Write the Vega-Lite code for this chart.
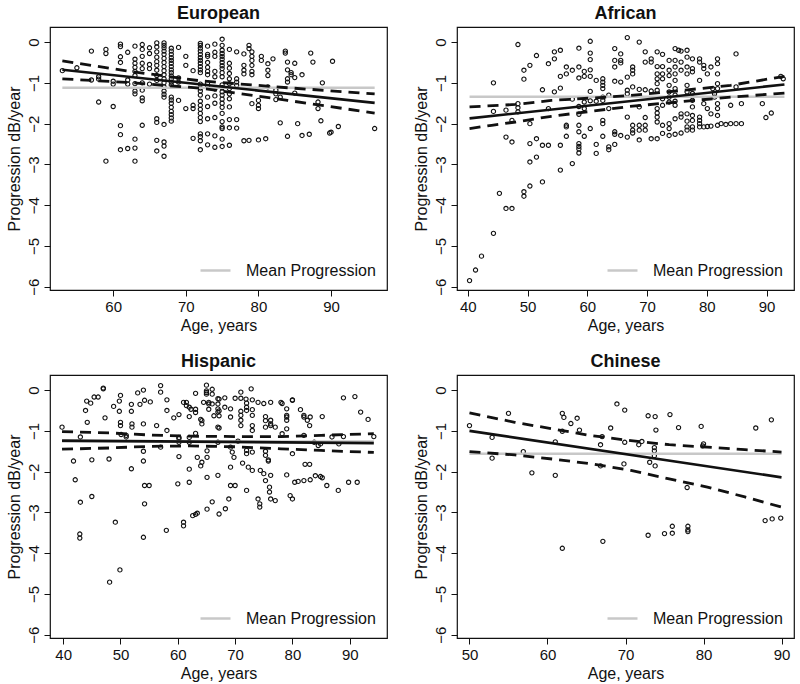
{
"$schema": "https://vega.github.io/schema/vega-lite/v6.json",
"padding": {"left": 5, "top": 4, "right": 5, "bottom": 5},
"bounds": "flush",
"columns": 2,
"spacing": {"row": 85, "column": 70},
"config": {
 "font": "Liberation Sans",
 "view": {"stroke": "#111", "strokeWidth": 1.2},
 "axis": {"grid": false, "domain": false, "tickColor": "#111", "tickSize": 6, "tickWidth": 1, "labelFontSize": 15, "labelColor": "#111", "titleFontSize": 16, "titleFontWeight": "normal", "titleColor": "#111", "labelPadding": 3, "labelFlush": false, "labelOverlap": false},
 "axisY": {"labelAngle": 270, "labelAlign": "center", "labelBaseline": "bottom", "titlePadding": 4},
 "axisX": {"titlePadding": 3},
 "title": {"fontSize": 18, "fontWeight": "bold", "color": "#111", "offset": 4, "anchor": "middle", "frame": "group"},
 "legend": {"orient": "bottom-right", "title": null, "symbolType": "stroke", "symbolSize": 900, "symbolStrokeWidth": 2.5, "labelFontSize": 16, "labelColor": "#111", "offset": 11, "padding": 0, "labelOffset": 14}
},
"resolve": {"scale": {"color": "independent"}, "legend": {"color": "independent"}},
"datasets": {
"pts": [
{"g":"E","a":53,"p":-0.7},{"g":"E","a":55,"p":-0.63},{"g":"E","a":57,"p":-0.22},{"g":"E","a":57,"p":-0.93},
{"g":"E","a":58,"p":-0.85},{"g":"E","a":58,"p":-0.91},{"g":"E","a":58,"p":-1.47},
{"g":"E","a":59,"p":-0.18},{"g":"E","a":59,"p":-0.28},{"g":"E","a":59,"p":-2.92},
{"g":"E","a":60,"p":-0.96},{"g":"E","a":60,"p":-1.03},{"g":"E","a":60,"p":-1.58},
{"g":"E","a":61,"p":-0.05},{"g":"E","a":61,"p":-0.11},{"g":"E","a":61,"p":-0.36},{"g":"E","a":61,"p":-0.5},{"g":"E","a":61,"p":-2.05},{"g":"E","a":61,"p":-2.27},{"g":"E","a":61,"p":-2.64},
{"g":"E","a":62,"p":-0.25},{"g":"E","a":62,"p":-0.93},{"g":"E","a":62,"p":-1.03},{"g":"E","a":62,"p":-2.61},
{"g":"E","a":63,"p":-0.1},{"g":"E","a":63,"p":-0.42},{"g":"E","a":63,"p":-0.52},{"g":"E","a":63,"p":-0.62},{"g":"E","a":63,"p":-0.72},{"g":"E","a":63,"p":-0.82},{"g":"E","a":63,"p":-1.02},{"g":"E","a":63,"p":-1.2},{"g":"E","a":63,"p":-1.27},{"g":"E","a":63,"p":-2.38},{"g":"E","a":63,"p":-2.6},{"g":"E","a":63,"p":-2.92},
{"g":"E","a":64,"p":-0.06},{"g":"E","a":64,"p":-0.18},{"g":"E","a":64,"p":-0.35},{"g":"E","a":64,"p":-0.52},{"g":"E","a":64,"p":-0.65},{"g":"E","a":64,"p":-1.0},{"g":"E","a":64,"p":-1.18},{"g":"E","a":64,"p":-1.37},{"g":"E","a":64,"p":-1.44},{"g":"E","a":64,"p":-2.04},
{"g":"E","a":65,"p":-0.14},{"g":"E","a":65,"p":-0.28},{"g":"E","a":65,"p":-0.55},{"g":"E","a":65,"p":-0.65},{"g":"E","a":65,"p":-1.03},
{"g":"E","a":66,"p":-0.02},{"g":"E","a":66,"p":-0.12},{"g":"E","a":66,"p":-0.24},{"g":"E","a":66,"p":-0.37},{"g":"E","a":66,"p":-0.48},{"g":"E","a":66,"p":-0.57},{"g":"E","a":66,"p":-0.69},{"g":"E","a":66,"p":-0.82},{"g":"E","a":66,"p":-0.94},{"g":"E","a":66,"p":-1.88},{"g":"E","a":66,"p":-1.97},{"g":"E","a":66,"p":-2.41},{"g":"E","a":66,"p":-2.67},
{"g":"E","a":67,"p":-0.02},{"g":"E","a":67,"p":-0.08},{"g":"E","a":67,"p":-0.14},{"g":"E","a":67,"p":-0.22},{"g":"E","a":67,"p":-0.3},{"g":"E","a":67,"p":-0.4},{"g":"E","a":67,"p":-0.5},{"g":"E","a":67,"p":-0.6},{"g":"E","a":67,"p":-0.7},{"g":"E","a":67,"p":-0.8},{"g":"E","a":67,"p":-0.9},{"g":"E","a":67,"p":-1.0},{"g":"E","a":67,"p":-1.1},{"g":"E","a":67,"p":-1.2},{"g":"E","a":67,"p":-1.28},{"g":"E","a":67,"p":-1.35},{"g":"E","a":67,"p":-2.02},{"g":"E","a":67,"p":-2.45},{"g":"E","a":67,"p":-2.55},{"g":"E","a":67,"p":-2.8},
{"g":"E","a":68,"p":-0.15},{"g":"E","a":68,"p":-0.22},{"g":"E","a":68,"p":-0.3},{"g":"E","a":68,"p":-0.38},{"g":"E","a":68,"p":-0.45},{"g":"E","a":68,"p":-0.52},{"g":"E","a":68,"p":-0.6},{"g":"E","a":68,"p":-0.68},{"g":"E","a":68,"p":-0.75},{"g":"E","a":68,"p":-0.83},{"g":"E","a":68,"p":-0.9},{"g":"E","a":68,"p":-0.98},{"g":"E","a":68,"p":-1.05},{"g":"E","a":68,"p":-1.35},{"g":"E","a":68,"p":-1.42},{"g":"E","a":68,"p":-1.5},{"g":"E","a":68,"p":-1.6},{"g":"E","a":68,"p":-1.7},{"g":"E","a":68,"p":-1.78},{"g":"E","a":68,"p":-1.86},{"g":"E","a":68,"p":-1.94},
{"g":"E","a":69,"p":-0.13},{"g":"E","a":69,"p":-0.88},{"g":"E","a":69,"p":-0.98},{"g":"E","a":69,"p":-1.43},
{"g":"E","a":70,"p":-0.35},{"g":"E","a":70,"p":-0.57},{"g":"E","a":70,"p":-1.63},
{"g":"E","a":71,"p":-0.7},{"g":"E","a":71,"p":-1.55},{"g":"E","a":71,"p":-1.63},{"g":"E","a":71,"p":-2.36},
{"g":"E","a":72,"p":-0.03},{"g":"E","a":72,"p":-0.08},{"g":"E","a":72,"p":-0.15},{"g":"E","a":72,"p":-0.22},{"g":"E","a":72,"p":-0.3},{"g":"E","a":72,"p":-0.38},{"g":"E","a":72,"p":-0.45},{"g":"E","a":72,"p":-0.52},{"g":"E","a":72,"p":-0.6},{"g":"E","a":72,"p":-0.68},{"g":"E","a":72,"p":-0.75},{"g":"E","a":72,"p":-1.03},{"g":"E","a":72,"p":-1.13},{"g":"E","a":72,"p":-1.2},{"g":"E","a":72,"p":-1.3},{"g":"E","a":72,"p":-1.45},{"g":"E","a":72,"p":-1.55},{"g":"E","a":72,"p":-1.65},{"g":"E","a":72,"p":-1.75},{"g":"E","a":72,"p":-1.85},{"g":"E","a":72,"p":-1.95},{"g":"E","a":72,"p":-2.25},{"g":"E","a":72,"p":-2.32},{"g":"E","a":72,"p":-2.42},{"g":"E","a":72,"p":-2.64},
{"g":"E","a":73,"p":-0.1},{"g":"E","a":73,"p":-0.3},{"g":"E","a":73,"p":-0.35},{"g":"E","a":73,"p":-0.5},{"g":"E","a":73,"p":-0.62},{"g":"E","a":73,"p":-0.72},{"g":"E","a":73,"p":-0.8},{"g":"E","a":73,"p":-1.0},{"g":"E","a":73,"p":-1.1},{"g":"E","a":73,"p":-1.35},{"g":"E","a":73,"p":-1.58},{"g":"E","a":73,"p":-1.88},{"g":"E","a":73,"p":-2.25},{"g":"E","a":73,"p":-2.52},
{"g":"E","a":74,"p":-0.05},{"g":"E","a":74,"p":-0.25},{"g":"E","a":74,"p":-0.35},{"g":"E","a":74,"p":-0.72},{"g":"E","a":74,"p":-0.85},{"g":"E","a":74,"p":-1.15},{"g":"E","a":74,"p":-1.32},{"g":"E","a":74,"p":-1.5},{"g":"E","a":74,"p":-1.85},{"g":"E","a":74,"p":-2.3},{"g":"E","a":74,"p":-2.58},
{"g":"E","a":75,"p":0.07},{"g":"E","a":75,"p":-0.08},{"g":"E","a":75,"p":-0.2},{"g":"E","a":75,"p":-0.28},{"g":"E","a":75,"p":-0.35},{"g":"E","a":75,"p":-0.42},{"g":"E","a":75,"p":-0.5},{"g":"E","a":75,"p":-0.58},{"g":"E","a":75,"p":-0.65},{"g":"E","a":75,"p":-0.75},{"g":"E","a":75,"p":-0.85},{"g":"E","a":75,"p":-1.05},{"g":"E","a":75,"p":-1.12},{"g":"E","a":75,"p":-1.22},{"g":"E","a":75,"p":-1.3},{"g":"E","a":75,"p":-1.4},{"g":"E","a":75,"p":-1.5},{"g":"E","a":75,"p":-1.6},{"g":"E","a":75,"p":-1.75},{"g":"E","a":75,"p":-1.95},{"g":"E","a":75,"p":-2.08},{"g":"E","a":75,"p":-2.12},{"g":"E","a":75,"p":-2.38},{"g":"E","a":75,"p":-2.56},
{"g":"E","a":76,"p":-0.18},{"g":"E","a":76,"p":-0.52},{"g":"E","a":76,"p":-0.64},{"g":"E","a":76,"p":-0.77},{"g":"E","a":76,"p":-0.9},{"g":"E","a":76,"p":-1.02},{"g":"E","a":76,"p":-1.14},{"g":"E","a":76,"p":-1.27},{"g":"E","a":76,"p":-1.39},{"g":"E","a":76,"p":-1.59},{"g":"E","a":76,"p":-1.9},{"g":"E","a":76,"p":-2.1},{"g":"E","a":76,"p":-2.53},
{"g":"E","a":77,"p":-0.24},{"g":"E","a":77,"p":-0.9},{"g":"E","a":77,"p":-0.98},{"g":"E","a":77,"p":-1.06},{"g":"E","a":77,"p":-1.9},{"g":"E","a":77,"p":-2.11},
{"g":"E","a":78,"p":-0.29},{"g":"E","a":78,"p":-0.57},{"g":"E","a":78,"p":-0.69},{"g":"E","a":78,"p":-0.78},{"g":"E","a":78,"p":-2.42},
{"g":"E","a":78.7,"p":-0.08},{"g":"E","a":78.7,"p":-0.16},{"g":"E","a":78.7,"p":-2.41},
{"g":"E","a":79.1,"p":-0.24},{"g":"E","a":79.1,"p":-0.35},{"g":"E","a":79.1,"p":-0.45},{"g":"E","a":79.1,"p":-0.57},{"g":"E","a":79.1,"p":-0.72},{"g":"E","a":79.1,"p":-0.8},{"g":"E","a":79.1,"p":-1.51},
{"g":"E","a":80,"p":-1.43},{"g":"E","a":80,"p":-1.55},{"g":"E","a":80,"p":-1.63},{"g":"E","a":80,"p":-2.4},
{"g":"E","a":80.4,"p":-0.35},{"g":"E","a":80.4,"p":-0.45},{"g":"E","a":81,"p":-2.37},
{"g":"E","a":81.3,"p":-0.53},{"g":"E","a":81.3,"p":-0.69},{"g":"E","a":81.3,"p":-0.82},{"g":"E","a":81.3,"p":-1.1},
{"g":"E","a":82,"p":-0.41},{"g":"E","a":82.4,"p":-1.18},{"g":"E","a":82.4,"p":-1.27},{"g":"E","a":82.4,"p":-1.41},
{"g":"E","a":83,"p":-1.98},{"g":"E","a":83,"p":-1.35},{"g":"E","a":83.7,"p":-0.27},{"g":"E","a":83.7,"p":-0.22},
{"g":"E","a":84,"p":-0.49},{"g":"E","a":84,"p":-0.68},{"g":"E","a":84,"p":-0.9},{"g":"E","a":84,"p":-0.98},{"g":"E","a":84,"p":-2.31},
{"g":"E","a":84.5,"p":-0.75},{"g":"E","a":84.5,"p":-0.8},{"g":"E","a":85,"p":-0.52},{"g":"E","a":85,"p":-0.87},{"g":"E","a":85,"p":-1.25},
{"g":"E","a":85.4,"p":-2.0},{"g":"E","a":86,"p":-2.29},{"g":"E","a":86,"p":-0.8},{"g":"E","a":87,"p":-2.26},{"g":"E","a":87.2,"p":-0.27},{"g":"E","a":87.5,"p":-0.49},
{"g":"E","a":88.2,"p":-1.47},{"g":"E","a":88.2,"p":-1.63},{"g":"E","a":88.6,"p":-1.93},{"g":"E","a":88.8,"p":-1.0},
{"g":"E","a":89.8,"p":-2.23},{"g":"E","a":90,"p":-2.21},{"g":"E","a":90.2,"p":-0.47},{"g":"E","a":91,"p":-2.07},{"g":"E","a":96,"p":-2.12},

{"g":"A","a":40.3,"p":-5.85},{"g":"A","a":41.3,"p":-5.59},{"g":"A","a":42.3,"p":-5.25},
{"g":"A","a":44.3,"p":-4.69},{"g":"A","a":44.3,"p":-1.0},{"g":"A","a":44.3,"p":-1.7},{"g":"A","a":45.3,"p":-3.71},
{"g":"A","a":46.4,"p":-4.08},{"g":"A","a":46.4,"p":-1.67},{"g":"A","a":46.4,"p":-2.33},
{"g":"A","a":47.4,"p":-4.08},{"g":"A","a":47.4,"p":-1.92},{"g":"A","a":47.4,"p":-2.45},
{"g":"A","a":48.4,"p":-0.06},{"g":"A","a":48.4,"p":-1.51},{"g":"A","a":48.4,"p":-1.61},{"g":"A","a":48.4,"p":-1.71},
{"g":"A","a":49.4,"p":-0.69},{"g":"A","a":49.4,"p":-0.91},{"g":"A","a":49.4,"p":-3.67},{"g":"A","a":49.4,"p":-3.78},
{"g":"A","a":50.4,"p":-0.57},{"g":"A","a":50.4,"p":-2.0},{"g":"A","a":50.4,"p":-2.49},{"g":"A","a":50.4,"p":-2.94},{"g":"A","a":50.4,"p":-3.53},
{"g":"A","a":51.5,"p":-0.33},{"g":"A","a":51.5,"p":-2.37},{"g":"A","a":51.5,"p":-2.82},
{"g":"A","a":52.5,"p":-1.17},{"g":"A","a":52.5,"p":-2.53},{"g":"A","a":52.5,"p":-3.43},
{"g":"A","a":53.5,"p":-0.53},{"g":"A","a":53.5,"p":-1.63},{"g":"A","a":53.5,"p":-2.53},
{"g":"A","a":54.5,"p":-0.24},{"g":"A","a":54.5,"p":-0.41},{"g":"A","a":54.5,"p":-1.22},
{"g":"A","a":55.5,"p":-0.2},{"g":"A","a":55.5,"p":-0.84},{"g":"A","a":55.5,"p":-1.13},{"g":"A","a":55.5,"p":-2.53},{"g":"A","a":55.5,"p":-3.14},
{"g":"A","a":56.5,"p":-0.61},{"g":"A","a":56.5,"p":-0.78},{"g":"A","a":56.5,"p":-2.04},{"g":"A","a":56.5,"p":-2.08},{"g":"A","a":56.5,"p":-2.31},
{"g":"A","a":57.5,"p":-0.69},{"g":"A","a":57.5,"p":-2.98},{"g":"A","a":57.5,"p":-1.4},
{"g":"A","a":58.6,"p":-0.15},{"g":"A","a":58.6,"p":-0.61},{"g":"A","a":58.6,"p":-0.88},{"g":"A","a":58.6,"p":-1.58},{"g":"A","a":58.6,"p":-1.77},{"g":"A","a":58.6,"p":-2.04},{"g":"A","a":58.6,"p":-2.2},{"g":"A","a":58.6,"p":-2.49},{"g":"A","a":58.6,"p":-2.56},{"g":"A","a":58.6,"p":-2.62},{"g":"A","a":58.6,"p":-2.72},
{"g":"A","a":59.5,"p":-0.72},{"g":"A","a":59.5,"p":-0.84},{"g":"A","a":59.5,"p":-1.47},{"g":"A","a":59.5,"p":-1.63},{"g":"A","a":59.5,"p":-2.31},
{"g":"A","a":60.5,"p":0.02},{"g":"A","a":60.5,"p":-0.27},{"g":"A","a":60.5,"p":-0.43},{"g":"A","a":60.5,"p":-0.68},{"g":"A","a":60.5,"p":-0.84},{"g":"A","a":60.5,"p":-1.21},{"g":"A","a":60.5,"p":-1.44},{"g":"A","a":60.5,"p":-2.12},
{"g":"A","a":61.5,"p":-0.94},{"g":"A","a":61.5,"p":-2.51},{"g":"A","a":61.5,"p":-2.73},{"g":"A","a":61.5,"p":-1.45},
{"g":"A","a":62.6,"p":-0.9},{"g":"A","a":62.6,"p":-0.98},{"g":"A","a":62.6,"p":-1.06},{"g":"A","a":62.6,"p":-1.14},{"g":"A","a":62.6,"p":-1.35},{"g":"A","a":62.6,"p":-1.43},{"g":"A","a":62.6,"p":-1.92},{"g":"A","a":62.6,"p":-2.0},{"g":"A","a":62.6,"p":-2.31},
{"g":"A","a":63.6,"p":-1.63},{"g":"A","a":63.6,"p":-2.57},{"g":"A","a":63.6,"p":-2.64},{"g":"A","a":63.6,"p":-1.3},
{"g":"A","a":64.6,"p":-0.16},{"g":"A","a":64.6,"p":-0.45},{"g":"A","a":64.6,"p":-0.61},{"g":"A","a":64.6,"p":-0.96},{"g":"A","a":64.6,"p":-2.2},{"g":"A","a":64.6,"p":-2.26},{"g":"A","a":64.6,"p":-2.51},
{"g":"A","a":65.6,"p":-0.45},{"g":"A","a":65.6,"p":-0.51},{"g":"A","a":65.6,"p":-0.98},{"g":"A","a":65.6,"p":-2.29},{"g":"A","a":65.6,"p":-0.29},
{"g":"A","a":66.7,"p":0.11},{"g":"A","a":66.7,"p":-0.86},{"g":"A","a":66.7,"p":-1.18},{"g":"A","a":66.7,"p":-1.27},{"g":"A","a":66.7,"p":-1.84},{"g":"A","a":66.7,"p":-2.33},
{"g":"A","a":67.6,"p":-0.61},{"g":"A","a":67.6,"p":-0.69},{"g":"A","a":67.6,"p":-0.78},{"g":"A","a":67.6,"p":-1.1},{"g":"A","a":67.6,"p":-2.04},{"g":"A","a":67.6,"p":-2.16},{"g":"A","a":67.6,"p":-2.23},
{"g":"A","a":68.7,"p":0.0},{"g":"A","a":68.7,"p":-1.16},{"g":"A","a":68.7,"p":-1.59},{"g":"A","a":68.7,"p":-2.04},{"g":"A","a":68.7,"p":-2.16},{"g":"A","a":68.7,"p":-2.4},
{"g":"A","a":69.7,"p":-0.24},{"g":"A","a":69.7,"p":-0.49},{"g":"A","a":69.7,"p":-1.17},{"g":"A","a":69.7,"p":-1.85},{"g":"A","a":69.7,"p":-2.04},{"g":"A","a":69.7,"p":-2.16},
{"g":"A","a":70.7,"p":-0.41},{"g":"A","a":70.7,"p":-0.49},{"g":"A","a":70.7,"p":-2.37},{"g":"A","a":70.7,"p":-1.2},
{"g":"A","a":71.7,"p":-0.24},{"g":"A","a":71.7,"p":-0.6},{"g":"A","a":71.7,"p":-0.78},{"g":"A","a":71.7,"p":-0.9},{"g":"A","a":71.7,"p":-1.02},{"g":"A","a":71.7,"p":-1.18},{"g":"A","a":71.7,"p":-1.63},{"g":"A","a":71.7,"p":-1.74},{"g":"A","a":71.7,"p":-1.84},{"g":"A","a":71.7,"p":-1.96},{"g":"A","a":71.7,"p":-2.37},
{"g":"A","a":72.6,"p":-0.6},{"g":"A","a":72.6,"p":-0.78},{"g":"A","a":72.6,"p":-0.9},{"g":"A","a":72.6,"p":-1.39},{"g":"A","a":72.6,"p":-1.55},{"g":"A","a":72.6,"p":-2.04},{"g":"A","a":72.6,"p":-2.24},{"g":"A","a":72.6,"p":-0.3},
{"g":"A","a":73.7,"p":-0.45},{"g":"A","a":73.7,"p":-0.69},{"g":"A","a":73.7,"p":-0.82},{"g":"A","a":73.7,"p":-1.06},{"g":"A","a":73.7,"p":-1.22},{"g":"A","a":73.7,"p":-1.35},{"g":"A","a":73.7,"p":-1.47},{"g":"A","a":73.7,"p":-2.0},{"g":"A","a":73.7,"p":-2.12},{"g":"A","a":73.7,"p":-2.29},
{"g":"A","a":74.7,"p":-0.16},{"g":"A","a":74.7,"p":-0.45},{"g":"A","a":74.7,"p":-0.61},{"g":"A","a":74.7,"p":-0.78},{"g":"A","a":74.7,"p":-0.94},{"g":"A","a":74.7,"p":-1.14},{"g":"A","a":74.7,"p":-1.3},{"g":"A","a":74.7,"p":-1.45},{"g":"A","a":74.7,"p":-1.55},{"g":"A","a":74.7,"p":-1.88},{"g":"A","a":74.7,"p":-2.26},
{"g":"A","a":75.3,"p":-0.2},{"g":"A","a":75.7,"p":-0.49},{"g":"A","a":75.7,"p":-0.69},{"g":"A","a":75.7,"p":-1.76},{"g":"A","a":75.7,"p":-1.84},{"g":"A","a":75.7,"p":-2.23},{"g":"A","a":75.7,"p":-0.22},
{"g":"A","a":76.7,"p":-0.37},{"g":"A","a":76.7,"p":-0.61},{"g":"A","a":76.7,"p":-0.78},{"g":"A","a":76.7,"p":-1.06},{"g":"A","a":76.7,"p":-1.22},{"g":"A","a":76.7,"p":-1.76},{"g":"A","a":76.7,"p":-1.94},{"g":"A","a":76.7,"p":-2.08},{"g":"A","a":76.7,"p":-2.16},{"g":"A","a":76.7,"p":-0.2},
{"g":"A","a":77.6,"p":-0.41},{"g":"A","a":77.6,"p":-0.65},{"g":"A","a":77.6,"p":-0.73},{"g":"A","a":77.6,"p":-1.26},{"g":"A","a":77.6,"p":-1.43},{"g":"A","a":77.6,"p":-1.59},{"g":"A","a":77.6,"p":-1.8},{"g":"A","a":77.6,"p":-1.92},{"g":"A","a":77.6,"p":-2.08},{"g":"A","a":77.6,"p":-2.16},
{"g":"A","a":78.8,"p":-0.41},{"g":"A","a":78.8,"p":-0.49},{"g":"A","a":78.8,"p":-0.94},{"g":"A","a":78.8,"p":-1.84},{"g":"A","a":78.8,"p":-1.92},{"g":"A","a":78.8,"p":-2.0},{"g":"A","a":78.8,"p":-2.08},
{"g":"A","a":79.5,"p":-0.57},{"g":"A","a":79.5,"p":-0.65},{"g":"A","a":79.5,"p":-1.51},{"g":"A","a":79.5,"p":-2.08},
{"g":"A","a":80.1,"p":-0.78},{"g":"A","a":80.1,"p":-1.63},{"g":"A","a":80.1,"p":-2.07},
{"g":"A","a":80.7,"p":-0.61},{"g":"A","a":80.7,"p":-1.76},{"g":"A","a":80.7,"p":-2.06},
{"g":"A","a":81,"p":-1.14},{"g":"A","a":81.3,"p":-1.27},{"g":"A","a":81.3,"p":-1.35},
{"g":"A","a":81.8,"p":-0.41},{"g":"A","a":81.8,"p":-0.53},{"g":"A","a":81.8,"p":-0.78},{"g":"A","a":81.8,"p":-1.02},{"g":"A","a":81.8,"p":-1.14},{"g":"A","a":81.8,"p":-1.51},{"g":"A","a":81.8,"p":-1.63},{"g":"A","a":81.8,"p":-1.8},{"g":"A","a":81.8,"p":-2.04},
{"g":"A","a":82.4,"p":-2.0},{"g":"A","a":83.2,"p":-2.02},{"g":"A","a":84,"p":-2.0},{"g":"A","a":84,"p":-1.55},
{"g":"A","a":84.9,"p":-0.29},{"g":"A","a":84.9,"p":-1.1},{"g":"A","a":84.9,"p":-2.0},
{"g":"A","a":85.8,"p":-1.51},{"g":"A","a":85.8,"p":-2.0},{"g":"A","a":89.3,"p":-1.51},{"g":"A","a":89.9,"p":-1.85},{"g":"A","a":90.8,"p":-1.74},{"g":"A","a":92.4,"p":-0.84},{"g":"A","a":92.8,"p":-0.9},

{"g":"H","a":39.8,"p":-0.91},{"g":"H","a":41.8,"p":-1.74},{"g":"H","a":42.1,"p":-2.2},{"g":"H","a":43,"p":-1.15},{"g":"H","a":43,"p":-2.75},
{"g":"H","a":42.9,"p":-3.53},{"g":"H","a":42.9,"p":-3.63},{"g":"H","a":43.9,"p":-0.5},{"g":"H","a":44.1,"p":-0.27},{"g":"H","a":44.8,"p":-0.32},
{"g":"H","a":45.4,"p":-0.17},{"g":"H","a":46.1,"p":-0.17},{"g":"H","a":44.2,"p":-0.79},{"g":"H","a":45,"p":-1.71},{"g":"H","a":45,"p":-2.61},
{"g":"H","a":47,"p":0.03},{"g":"H","a":47,"p":0.05},{"g":"H","a":47.3,"p":-0.68},{"g":"H","a":48,"p":-1.69},{"g":"H","a":48.1,"p":-4.71},
{"g":"H","a":48.8,"p":-0.4},{"g":"H","a":49.1,"p":-3.24},{"g":"H","a":49.8,"p":-0.52},{"g":"H","a":49.8,"p":-0.27},
{"g":"H","a":50,"p":-0.13},{"g":"H","a":50,"p":-0.79},{"g":"H","a":50,"p":-0.87},{"g":"H","a":49.9,"p":-4.41},{"g":"H","a":50.1,"p":-1.09},
{"g":"H","a":51,"p":-1.11},{"g":"H","a":51,"p":-1.15},{"g":"H","a":51.9,"p":-0.35},{"g":"H","a":51.9,"p":-0.52},{"g":"H","a":51.9,"p":-1.93},
{"g":"H","a":52,"p":-0.83},{"g":"H","a":52,"p":-0.91},{"g":"H","a":53,"p":-0.07},{"g":"H","a":53.4,"p":-0.35},
{"g":"H","a":54,"p":0.0},{"g":"H","a":54,"p":-0.83},{"g":"H","a":54,"p":-1.5},{"g":"H","a":54,"p":-1.74},{"g":"H","a":54,"p":-3.61},
{"g":"H","a":54.2,"p":-0.25},{"g":"H","a":54.2,"p":-2.34},{"g":"H","a":54.2,"p":-2.79},{"g":"H","a":55,"p":-2.34},{"g":"H","a":55.2,"p":-0.29},
{"g":"H","a":56.3,"p":-0.87},{"g":"H","a":57,"p":0.11},{"g":"H","a":57,"p":-0.05},{"g":"H","a":57,"p":-1.4},
{"g":"H","a":58.1,"p":-0.24},{"g":"H","a":58.1,"p":-0.5},{"g":"H","a":58.1,"p":-0.99},{"g":"H","a":58,"p":-3.44},{"g":"H","a":59.3,"p":-0.68},
{"g":"H","a":60.2,"p":-0.6},{"g":"H","a":60.2,"p":-1.19},{"g":"H","a":60.2,"p":-1.28},{"g":"H","a":60.2,"p":-1.63},{"g":"H","a":60.2,"p":-1.16},{"g":"H","a":60,"p":-2.3},
{"g":"H","a":61,"p":-0.3},{"g":"H","a":61,"p":-3.33},{"g":"H","a":61,"p":-3.24},{"g":"H","a":61.5,"p":-0.3},{"g":"H","a":61.5,"p":-0.38},
{"g":"H","a":62,"p":-0.42},{"g":"H","a":62,"p":-0.65},{"g":"H","a":62,"p":-1.16},{"g":"H","a":62,"p":-1.28},{"g":"H","a":62,"p":-1.94},{"g":"H","a":62,"p":-2.26},
{"g":"H","a":62.3,"p":-0.47},{"g":"H","a":62.6,"p":-3.08},{"g":"H","a":63.1,"p":-0.08},{"g":"H","a":63.1,"p":-0.47},{"g":"H","a":63.1,"p":-0.55},{"g":"H","a":63.1,"p":-1.06},{"g":"H","a":63.1,"p":-3.05},
{"g":"H","a":63.4,"p":-1.65},{"g":"H","a":63.4,"p":-3.02},{"g":"H","a":64,"p":-1.86},{"g":"H","a":64,"p":-0.72},
{"g":"H","a":64.2,"p":-0.75},{"g":"H","a":64.2,"p":-0.83},{"g":"H","a":64.2,"p":-1.77},{"g":"H","a":64.5,"p":-0.3},
{"g":"H","a":65,"p":0.12},{"g":"H","a":65,"p":-0.02},{"g":"H","a":65,"p":-0.1},{"g":"H","a":65,"p":-0.06},
{"g":"H","a":65.4,"p":-0.3},{"g":"H","a":65.4,"p":-0.47},{"g":"H","a":65.4,"p":-0.34},
{"g":"H","a":65.1,"p":-1.49},{"g":"H","a":65.1,"p":-1.65},{"g":"H","a":65.1,"p":-2.14},{"g":"H","a":65.1,"p":-2.92},
{"g":"H","a":66,"p":0.02},{"g":"H","a":66,"p":-0.1},{"g":"H","a":66,"p":-0.34},{"g":"H","a":66,"p":-2.74},{"g":"H","a":66.3,"p":-0.63},
{"g":"H","a":67,"p":-0.21},{"g":"H","a":67,"p":-0.34},{"g":"H","a":67,"p":-0.46},{"g":"H","a":67,"p":-0.54},{"g":"H","a":67,"p":-0.91},{"g":"H","a":67,"p":-1.28},{"g":"H","a":67,"p":-2.09},
{"g":"H","a":67.2,"p":-0.22},{"g":"H","a":67.2,"p":-0.51},{"g":"H","a":67.2,"p":-0.63},{"g":"H","a":67.2,"p":-0.93},{"g":"H","a":67.2,"p":-3.04},
{"g":"H","a":68.2,"p":-0.19},{"g":"H","a":68.2,"p":-0.42},{"g":"H","a":68.3,"p":-2.91},{"g":"H","a":68.9,"p":-2.67},
{"g":"H","a":69.2,"p":-0.46},{"g":"H","a":69.2,"p":-0.66},{"g":"H","a":69.2,"p":-1.4},{"g":"H","a":69.2,"p":-1.89},{"g":"H","a":69.2,"p":-2.34},
{"g":"H","a":69.5,"p":-1.52},{"g":"H","a":69.8,"p":-1.65},{"g":"H","a":70,"p":-2.34},{"g":"H","a":70,"p":-0.2},{"g":"H","a":70.5,"p":-1.25},
{"g":"H","a":71,"p":-0.52},{"g":"H","a":71,"p":-0.62},{"g":"H","a":71,"p":-0.74},{"g":"H","a":71,"p":-0.87},{"g":"H","a":71,"p":-0.05},{"g":"H","a":71,"p":-0.2},
{"g":"H","a":71.3,"p":-1.79},{"g":"H","a":71.9,"p":-0.22},
{"g":"H","a":72,"p":-0.32},{"g":"H","a":72,"p":-0.42},{"g":"H","a":72,"p":-0.5},{"g":"H","a":72,"p":-1.56},{"g":"H","a":72,"p":-1.48},{"g":"H","a":72,"p":-2.46},
{"g":"H","a":72.3,"p":-1.89},{"g":"H","a":72.8,"p":0.03},
{"g":"H","a":73,"p":-0.24},{"g":"H","a":73,"p":-0.48},{"g":"H","a":73,"p":-0.62},{"g":"H","a":73,"p":-0.87},{"g":"H","a":73,"p":-0.99},{"g":"H","a":73,"p":-1.52},{"g":"H","a":73,"p":-1.97},
{"g":"H","a":74,"p":-0.3},{"g":"H","a":74,"p":-2.67},{"g":"H","a":74.3,"p":-2.79},{"g":"H","a":74.3,"p":-2.87},{"g":"H","a":74.4,"p":-1.97},
{"g":"H","a":75,"p":-0.33},{"g":"H","a":75,"p":-2.05},
{"g":"H","a":75.3,"p":-0.65},{"g":"H","a":75.3,"p":-0.75},{"g":"H","a":75.3,"p":-0.91},{"g":"H","a":75.3,"p":-1.5},{"g":"H","a":75.3,"p":-1.6},{"g":"H","a":75.3,"p":-2.22},
{"g":"H","a":75.8,"p":-1.71},{"g":"H","a":75.8,"p":-1.74},{"g":"H","a":76,"p":-2.5},{"g":"H","a":76,"p":-2.38},
{"g":"H","a":76.2,"p":-0.3},{"g":"H","a":76.2,"p":-0.74},{"g":"H","a":76.2,"p":-0.83},{"g":"H","a":76.2,"p":-0.87},{"g":"H","a":76.2,"p":-2.67},{"g":"H","a":76.2,"p":-2.09},
{"g":"H","a":77,"p":-0.91},{"g":"H","a":77,"p":-2.71},{"g":"H","a":78,"p":-0.3},{"g":"H","a":78.2,"p":-0.33},{"g":"H","a":78.2,"p":-1.07},
{"g":"H","a":79,"p":-0.46},{"g":"H","a":79,"p":-0.62},{"g":"H","a":79,"p":-0.66},{"g":"H","a":79,"p":-0.74},{"g":"H","a":79,"p":-0.95},{"g":"H","a":79,"p":-2.08},
{"g":"H","a":79.6,"p":-2.59},{"g":"H","a":80,"p":-0.25},{"g":"H","a":80,"p":-0.24},{"g":"H","a":80,"p":-1.56},{"g":"H","a":80,"p":-2.67},
{"g":"H","a":80.4,"p":-2.26},{"g":"H","a":81,"p":-2.24},{"g":"H","a":81.4,"p":-0.48},
{"g":"H","a":82,"p":-0.62},{"g":"H","a":82,"p":-0.66},{"g":"H","a":82,"p":-1.11},{"g":"H","a":82,"p":-2.22},{"g":"H","a":82.2,"p":-1.82},{"g":"H","a":82.6,"p":-0.74},
{"g":"H","a":83,"p":-1.82},{"g":"H","a":83,"p":-0.87},{"g":"H","a":83.1,"p":-2.2},{"g":"H","a":83.1,"p":-0.66},
{"g":"H","a":83.8,"p":-1.28},{"g":"H","a":84,"p":-2.1},{"g":"H","a":84.5,"p":-1.36},{"g":"H","a":84.9,"p":-2.12},{"g":"H","a":84.9,"p":-1.32},
{"g":"H","a":85.2,"p":-0.65},{"g":"H","a":85.2,"p":-2.15},{"g":"H","a":86,"p":-2.34},{"g":"H","a":86.9,"p":-1.15},{"g":"H","a":88,"p":-2.46},{"g":"H","a":88.1,"p":-1.32},
{"g":"H","a":88.9,"p":-1.14},{"g":"H","a":88.9,"p":-0.19},{"g":"H","a":89.8,"p":-2.26},{"g":"H","a":90.9,"p":-0.16},{"g":"H","a":91.3,"p":-2.26},{"g":"H","a":91.9,"p":-0.54},{"g":"H","a":93.2,"p":-0.72},{"g":"H","a":94.2,"p":-1.14},

{"g":"C","a":50,"p":-0.87},{"g":"C","a":52.9,"p":-1.16},{"g":"C","a":52.9,"p":-1.67},{"g":"C","a":55,"p":-0.57},{"g":"C","a":56.9,"p":-1.51},
{"g":"C","a":58,"p":-2.03},{"g":"C","a":61,"p":-1.27},{"g":"C","a":61,"p":-2.09},{"g":"C","a":61.9,"p":-0.57},{"g":"C","a":62.1,"p":-0.67},
{"g":"C","a":61.9,"p":-1.01},{"g":"C","a":61.9,"p":-3.88},{"g":"C","a":63,"p":-0.82},{"g":"C","a":63.8,"p":-0.69},{"g":"C","a":64.1,"p":-0.98},
{"g":"C","a":66.8,"p":-1.34},{"g":"C","a":67,"p":-1.14},{"g":"C","a":66.8,"p":-1.86},{"g":"C","a":67.1,"p":-3.71},{"g":"C","a":68.1,"p":-0.93},
{"g":"C","a":68.9,"p":-0.34},{"g":"C","a":69.9,"p":-0.49},{"g":"C","a":69.9,"p":-1.28},{"g":"C","a":69.8,"p":-1.81},{"g":"C","a":71.7,"p":-1.34},
{"g":"C","a":72.1,"p":-1.26},{"g":"C","a":72.9,"p":-0.63},{"g":"C","a":73.1,"p":-1.77},{"g":"C","a":72.9,"p":-3.56},{"g":"C","a":73.8,"p":-0.65},
{"g":"C","a":73.7,"p":-1.41},{"g":"C","a":73.7,"p":-1.49},{"g":"C","a":73.7,"p":-1.61},{"g":"C","a":73.8,"p":-1.86},{"g":"C","a":73.9,"p":-0.98},
{"g":"C","a":75,"p":-3.52},{"g":"C","a":75.7,"p":-0.6},{"g":"C","a":76,"p":-3.34},{"g":"C","a":76,"p":-3.51},{"g":"C","a":76.8,"p":-0.92},
{"g":"C","a":77.9,"p":-2.39},{"g":"C","a":78,"p":-3.34},{"g":"C","a":78,"p":-3.43},{"g":"C","a":78,"p":-3.47},{"g":"C","a":79.7,"p":-0.89},
{"g":"C","a":79.9,"p":-1.37},{"g":"C","a":80,"p":-1.32},{"g":"C","a":86.7,"p":-0.93},{"g":"C","a":87.9,"p":-3.2},{"g":"C","a":88.7,"p":-0.73},
{"g":"C","a":88.8,"p":-3.16},{"g":"C","a":89.9,"p":-3.14}
],
"lines": [
{"g":"E","s":"mean","a":53,"p":-1.12,"lbl":"Mean Progression"},{"g":"E","s":"mean","a":96,"p":-1.12,"lbl":"Mean Progression"},
{"g":"E","s":"fit","a":53,"p":-0.68,"lbl":"fit"},{"g":"E","s":"fit","a":96,"p":-1.49,"lbl":"fit"},
{"g":"E","s":"upper","a":53,"p":-0.46,"lbl":"ci"},{"g":"E","s":"upper","a":62,"p":-0.71,"lbl":"ci"},{"g":"E","s":"upper","a":72,"p":-0.95,"lbl":"ci"},{"g":"E","s":"upper","a":84,"p":-1.12,"lbl":"ci"},{"g":"E","s":"upper","a":96,"p":-1.27,"lbl":"ci"},
{"g":"E","s":"lower","a":53,"p":-0.9,"lbl":"ci"},{"g":"E","s":"lower","a":62,"p":-0.99,"lbl":"ci"},{"g":"E","s":"lower","a":72,"p":-1.13,"lbl":"ci"},{"g":"E","s":"lower","a":84,"p":-1.43,"lbl":"ci"},{"g":"E","s":"lower","a":96,"p":-1.74,"lbl":"ci"},

{"g":"A","s":"mean","a":40.3,"p":-1.34,"lbl":"Mean Progression"},{"g":"A","s":"mean","a":93,"p":-1.34,"lbl":"Mean Progression"},
{"g":"A","s":"fit","a":40.3,"p":-1.87,"lbl":"fit"},{"g":"A","s":"fit","a":93,"p":-1.04,"lbl":"fit"},
{"g":"A","s":"upper","a":40.3,"p":-1.59,"lbl":"ci"},{"g":"A","s":"upper","a":48,"p":-1.53,"lbl":"ci"},{"g":"A","s":"upper","a":54,"p":-1.43,"lbl":"ci"},{"g":"A","s":"upper","a":61,"p":-1.37,"lbl":"ci"},{"g":"A","s":"upper","a":67,"p":-1.31,"lbl":"ci"},{"g":"A","s":"upper","a":75,"p":-1.2,"lbl":"ci"},{"g":"A","s":"upper","a":84,"p":-1.06,"lbl":"ci"},{"g":"A","s":"upper","a":93,"p":-0.84,"lbl":"ci"},
{"g":"A","s":"lower","a":40.3,"p":-2.12,"lbl":"ci"},{"g":"A","s":"lower","a":44,"p":-2.04,"lbl":"ci"},{"g":"A","s":"lower","a":48,"p":-1.96,"lbl":"ci"},{"g":"A","s":"lower","a":54,"p":-1.82,"lbl":"ci"},{"g":"A","s":"lower","a":61,"p":-1.69,"lbl":"ci"},{"g":"A","s":"lower","a":67,"p":-1.58,"lbl":"ci"},{"g":"A","s":"lower","a":75,"p":-1.47,"lbl":"ci"},{"g":"A","s":"lower","a":84,"p":-1.35,"lbl":"ci"},{"g":"A","s":"lower","a":93,"p":-1.25,"lbl":"ci"},

{"g":"H","s":"mean","a":39.8,"p":-1.26,"lbl":"Mean Progression"},{"g":"H","s":"mean","a":94.2,"p":-1.26,"lbl":"Mean Progression"},
{"g":"H","s":"fit","a":39.8,"p":-1.24,"lbl":"fit"},{"g":"H","s":"fit","a":94.2,"p":-1.3,"lbl":"fit"},
{"g":"H","s":"upper","a":39.8,"p":-1.02,"lbl":"ci"},{"g":"H","s":"upper","a":48,"p":-1.05,"lbl":"ci"},{"g":"H","s":"upper","a":55,"p":-1.1,"lbl":"ci"},{"g":"H","s":"upper","a":62,"p":-1.13,"lbl":"ci"},{"g":"H","s":"upper","a":70,"p":-1.14,"lbl":"ci"},{"g":"H","s":"upper","a":78,"p":-1.14,"lbl":"ci"},{"g":"H","s":"upper","a":85,"p":-1.11,"lbl":"ci"},{"g":"H","s":"upper","a":94.2,"p":-1.07,"lbl":"ci"},
{"g":"H","s":"lower","a":39.8,"p":-1.45,"lbl":"ci"},{"g":"H","s":"lower","a":48,"p":-1.42,"lbl":"ci"},{"g":"H","s":"lower","a":55,"p":-1.38,"lbl":"ci"},{"g":"H","s":"lower","a":62,"p":-1.37,"lbl":"ci"},{"g":"H","s":"lower","a":70,"p":-1.39,"lbl":"ci"},{"g":"H","s":"lower","a":78,"p":-1.44,"lbl":"ci"},{"g":"H","s":"lower","a":85,"p":-1.48,"lbl":"ci"},{"g":"H","s":"lower","a":94.2,"p":-1.53,"lbl":"ci"},

{"g":"C","s":"mean","a":50,"p":-1.56,"lbl":"Mean Progression"},{"g":"C","s":"mean","a":90,"p":-1.56,"lbl":"Mean Progression"},
{"g":"C","s":"fit","a":50,"p":-1.0,"lbl":"fit"},{"g":"C","s":"fit","a":90,"p":-2.14,"lbl":"fit"},
{"g":"C","s":"upper","a":50,"p":-0.56,"lbl":"ci"},{"g":"C","s":"upper","a":55.8,"p":-0.79,"lbl":"ci"},{"g":"C","s":"upper","a":60.6,"p":-0.95,"lbl":"ci"},{"g":"C","s":"upper","a":65.4,"p":-1.11,"lbl":"ci"},{"g":"C","s":"upper","a":70.7,"p":-1.24,"lbl":"ci"},{"g":"C","s":"upper","a":75.6,"p":-1.34,"lbl":"ci"},{"g":"C","s":"upper","a":80.5,"p":-1.4,"lbl":"ci"},{"g":"C","s":"upper","a":85.3,"p":-1.46,"lbl":"ci"},{"g":"C","s":"upper","a":90,"p":-1.52,"lbl":"ci"},
{"g":"C","s":"lower","a":50,"p":-1.51,"lbl":"ci"},{"g":"C","s":"lower","a":55.8,"p":-1.59,"lbl":"ci"},{"g":"C","s":"lower","a":60.6,"p":-1.69,"lbl":"ci"},{"g":"C","s":"lower","a":65.7,"p":-1.81,"lbl":"ci"},{"g":"C","s":"lower","a":70.7,"p":-1.97,"lbl":"ci"},{"g":"C","s":"lower","a":75.6,"p":-2.18,"lbl":"ci"},{"g":"C","s":"lower","a":80.5,"p":-2.38,"lbl":"ci"},{"g":"C","s":"lower","a":85.3,"p":-2.62,"lbl":"ci"},{"g":"C","s":"lower","a":90,"p":-2.87,"lbl":"ci"}
]
},
"concat": [
{
 "width": 337, "height": 263,
 "title": {"text": "European"},
 "encoding": {
  "x": {"field": "a", "type": "quantitative", "title": "Age, years", "scale": {"domain": [51.3, 97.7], "nice": false, "zero": false}, "axis": {"values": [60, 70, 80, 90]}},
  "y": {"field": "p", "type": "quantitative", "title": "Progression dB/year", "scale": {"domain": [-6.08, 0.37], "nice": false, "zero": false}, "axis": {"values": [0, -1, -2, -3, -4, -5, -6]}}
 },
 "layer": [
  {"data": {"name": "pts"}, "transform": [{"filter": "datum.g === 'E'"}], "mark": {"type": "point", "shape": "circle", "size": 18, "strokeWidth": 1.1, "color": "#111", "opacity": 1}},
  {"data": {"name": "lines"}, "transform": [{"filter": "datum.g === 'E' && datum.s === 'mean'"}], "mark": {"type": "line", "strokeWidth": 2.5}, "encoding": {"color": {"field": "lbl", "type": "nominal", "scale": {"range": ["#c8c8c8"]}}}},
  {"data": {"name": "lines"}, "transform": [{"filter": "datum.g === 'E' && (datum.s === 'upper' || datum.s === 'lower')"}], "mark": {"type": "line", "strokeWidth": 2.8, "color": "#111", "strokeDash": [11, 7]}, "encoding": {"detail": {"field": "s"}}},
  {"data": {"name": "lines"}, "transform": [{"filter": "datum.g === 'E' && datum.s === 'fit'"}], "mark": {"type": "line", "strokeWidth": 2.6, "color": "#111"}, "encoding": {}}
 ]
},
{
 "width": 337, "height": 263,
 "title": {"text": "African"},
 "encoding": {
  "x": {"field": "a", "type": "quantitative", "title": "Age, years", "scale": {"domain": [38.2, 94.6], "nice": false, "zero": false}, "axis": {"values": [40, 50, 60, 70, 80, 90]}},
  "y": {"field": "p", "type": "quantitative", "title": "Progression dB/year", "scale": {"domain": [-6.08, 0.37], "nice": false, "zero": false}, "axis": {"values": [0, -1, -2, -3, -4, -5, -6]}}
 },
 "layer": [
  {"data": {"name": "pts"}, "transform": [{"filter": "datum.g === 'A'"}], "mark": {"type": "point", "shape": "circle", "size": 18, "strokeWidth": 1.1, "color": "#111", "opacity": 1}},
  {"data": {"name": "lines"}, "transform": [{"filter": "datum.g === 'A' && datum.s === 'mean'"}], "mark": {"type": "line", "strokeWidth": 2.5}, "encoding": {"color": {"field": "lbl", "type": "nominal", "scale": {"range": ["#c8c8c8"]}}}},
  {"data": {"name": "lines"}, "transform": [{"filter": "datum.g === 'A' && (datum.s === 'upper' || datum.s === 'lower')"}], "mark": {"type": "line", "strokeWidth": 2.8, "color": "#111", "strokeDash": [11, 7]}, "encoding": {"detail": {"field": "s"}}},
  {"data": {"name": "lines"}, "transform": [{"filter": "datum.g === 'A' && datum.s === 'fit'"}], "mark": {"type": "line", "strokeWidth": 2.6, "color": "#111"}, "encoding": {}}
 ]
},
{
 "width": 337, "height": 263,
 "title": {"text": "Hispanic"},
 "encoding": {
  "x": {"field": "a", "type": "quantitative", "title": "Age, years", "scale": {"domain": [37.7, 96.5], "nice": false, "zero": false}, "axis": {"values": [40, 50, 60, 70, 80, 90]}},
  "y": {"field": "p", "type": "quantitative", "title": "Progression dB/year", "scale": {"domain": [-6.08, 0.37], "nice": false, "zero": false}, "axis": {"values": [0, -1, -2, -3, -4, -5, -6]}}
 },
 "layer": [
  {"data": {"name": "pts"}, "transform": [{"filter": "datum.g === 'H'"}], "mark": {"type": "point", "shape": "circle", "size": 18, "strokeWidth": 1.1, "color": "#111", "opacity": 1}},
  {"data": {"name": "lines"}, "transform": [{"filter": "datum.g === 'H' && datum.s === 'mean'"}], "mark": {"type": "line", "strokeWidth": 2.5}, "encoding": {"color": {"field": "lbl", "type": "nominal", "scale": {"range": ["#c8c8c8"]}}}},
  {"data": {"name": "lines"}, "transform": [{"filter": "datum.g === 'H' && (datum.s === 'upper' || datum.s === 'lower')"}], "mark": {"type": "line", "strokeWidth": 2.8, "color": "#111", "strokeDash": [11, 7]}, "encoding": {"detail": {"field": "s"}}},
  {"data": {"name": "lines"}, "transform": [{"filter": "datum.g === 'H' && datum.s === 'fit'"}], "mark": {"type": "line", "strokeWidth": 2.6, "color": "#111"}, "encoding": {}}
 ]
},
{
 "width": 337, "height": 263,
 "title": {"text": "Chinese"},
 "encoding": {
  "x": {"field": "a", "type": "quantitative", "title": "Age, years", "scale": {"domain": [48.4, 91.6], "nice": false, "zero": false}, "axis": {"values": [50, 60, 70, 80, 90]}},
  "y": {"field": "p", "type": "quantitative", "title": "Progression dB/year", "scale": {"domain": [-6.08, 0.37], "nice": false, "zero": false}, "axis": {"values": [0, -1, -2, -3, -4, -5, -6]}}
 },
 "layer": [
  {"data": {"name": "pts"}, "transform": [{"filter": "datum.g === 'C'"}], "mark": {"type": "point", "shape": "circle", "size": 18, "strokeWidth": 1.1, "color": "#111", "opacity": 1}},
  {"data": {"name": "lines"}, "transform": [{"filter": "datum.g === 'C' && datum.s === 'mean'"}], "mark": {"type": "line", "strokeWidth": 2.5}, "encoding": {"color": {"field": "lbl", "type": "nominal", "scale": {"range": ["#c8c8c8"]}}}},
  {"data": {"name": "lines"}, "transform": [{"filter": "datum.g === 'C' && (datum.s === 'upper' || datum.s === 'lower')"}], "mark": {"type": "line", "strokeWidth": 2.8, "color": "#111", "strokeDash": [11, 7]}, "encoding": {"detail": {"field": "s"}}},
  {"data": {"name": "lines"}, "transform": [{"filter": "datum.g === 'C' && datum.s === 'fit'"}], "mark": {"type": "line", "strokeWidth": 2.6, "color": "#111"}, "encoding": {}}
 ]
}
]
}
